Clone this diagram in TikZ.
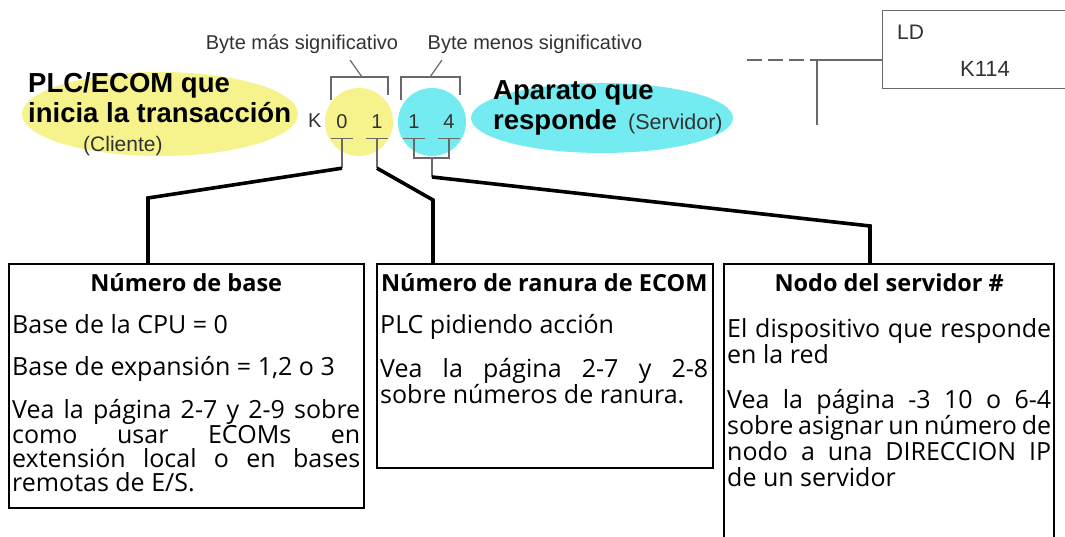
\documentclass[tikz,border=0pt]{standalone}
\usepackage{fontspec}
\setmainfont{Liberation Sans}
\newfontfamily\boxfont{Open Sans}
\definecolor{plcyellow}{RGB}{246,242,140}
\definecolor{srvcyan}{RGB}{115,235,240}
\definecolor{linegray}{RGB}{105,105,105}
\definecolor{textgray}{RGB}{50,50,50}
\tikzset{
  tick/.style={draw=linegray,line width=1.2pt},
  conn/.style={line width=3.6pt,line join=miter},
  infobox/.style={draw,line width=1.6pt,anchor=north west},
  boxtxt/.style={anchor=base west,text width=#1,align=justify,
    font=\boxfont\fontsize{25}{24}\selectfont},
  digit/.style={minimum width=22pt,minimum height=32pt,text=textgray,
    font=\fontsize{20}{20}\selectfont},
  bigtxt/.style={anchor=base west,font=\bfseries\fontsize{27.5}{27}\selectfont},
  smalltxt/.style={anchor=base west,text=textgray,font=\fontsize{20}{20}\selectfont}
}
\newcommand{\boxtitle}[1]{{\centering\bfseries\fontsize{23.5}{24}\selectfont #1\par}}
\begin{document}
\begin{tikzpicture}[x=1pt,y=-1pt,every node/.style={inner sep=0pt}]
      \useasboundingbox (0,0) rectangle (1065,537);
      \clip (0,0) rectangle (1065,537);
      \fill[plcyellow] (160,114) ellipse [x radius=138pt,y radius=42pt];
      \fill[srvcyan] (602,118) ellipse [x radius=131pt,y radius=35pt];
      \fill[plcyellow] (359,122) circle [radius=34pt];
      \fill[srvcyan] (432,122) circle [radius=34pt];

      \node[bigtxt] (cli1) at (28,93) {PLC/ECOM que};
      \node[bigtxt] (cli2) at (28,123) {inicia la transacción};
      \node[smalltxt,font=\fontsize{21}{21}\selectfont] (cli3) at (83,152) {(Cliente)};
      \node[bigtxt] (srv1) at (493,100) {Aparato que};
      \node[bigtxt] (srv2) at (493,130) {responde};
      \node[smalltxt,font=\fontsize{21.5}{21}\selectfont] (srv3) at (628,130) {(Servidor)};

      \node[smalltxt] (kk) at (308,128) {K};
      \node[digit] (d0) at (342,122) {0};
      \node[digit] (d1) at (377,122) {1};
      \node[digit] (d2) at (414,122) {1};
      \node[digit] (d3) at (449,122) {4};
      \foreach \d in {d0,d1,d2,d3}
        \draw[tick] (\d.south west) -- (\d.south east);

      \node[smalltxt,anchor=base] (msb) at (302,50) {Byte más significativo};
      \node[smalltxt,anchor=base] (lsb) at (535,50) {Byte menos significativo};
      \draw[tick] (331,100) |- (388,77) -- (388,95);
      \draw[tick] (362,77) -- (350,60);
      \draw[tick] (401,100) |- (460,77) -- (460,95);
      \draw[tick] (430,77) -- (442,60);

      \node[draw=linegray,line width=1.2pt,anchor=north west,
        minimum width=200pt,minimum height=78pt] (ld) at (882,10) {};
      \node[smalltxt,font=\fontsize{21}{21}\selectfont] (ldop) at (897,40) {LD};
      \node[smalltxt,font=\fontsize{22}{22}\selectfont] (ldk) at (960,77) {K114};
      \coordinate (rung) at (817,60);
      \draw[tick,dash pattern=on 15pt off 6pt] (747,60) -- (rung);
      \draw[tick] (rung) -- (rung -| ld.west);
      \draw[tick] (rung) -- ++(0,65);

      \node[infobox,minimum width=355pt,minimum height=244pt] (base) at (8,263) {};
      \node[infobox,minimum width=336pt,minimum height=204pt] (ranura) at (376,263) {};
      \node[infobox,line width=2.2pt,minimum width=330pt,minimum height=290pt] (nodo) at (723,263) {};

      \node[boxtxt=348pt] (basetxt) at (12,291) {%
        \boxtitle{Número de base}\vspace{18pt}
        Base de la CPU = 0\par\vspace{18pt}
        Base de expansión = 1,2 o 3\par\vspace{17pt}
        Vea la página 2-7 y 2-9 sobre\linebreak como usar ECOMs en\linebreak
        extensión local o en bases\linebreak remotas de E/S.\par};
      \node[boxtxt=328pt] (ranuratxt) at (380,291) {%
        \boxtitle{Número de ranura de ECOM}\vspace{18pt}
        PLC pidiendo acción\par\vspace{18pt}
        Vea la página 2-7 y 2-8\linebreak sobre números de ranura.\par};
      \node[boxtxt=324pt,font=\boxfont\fontsize{25}{26}\selectfont] (nodotxt) at (727,291) {%
        \boxtitle{Nodo del servidor \#}\vspace{20pt}
        El dispositivo que responde\linebreak en la red\par\vspace{19pt}
        Vea la página -3 10 o 6-4\linebreak sobre asignar un número de\linebreak
        nodo a una DIRECCION IP\linebreak de un servidor\par};

      \draw[tick] (d0.south) -- ++(0,30) coordinate (j0);
      \draw[tick] (d1.south) -- ++(0,30) coordinate (j1);
      \coordinate (m23) at (432,158);
      \draw[tick] (d2.south) |- (m23) -| (d3.south);
      \draw[tick] (m23) -- ++(0,19) coordinate (j2);
      \coordinate (k0) at (148,198);
      \coordinate (k1) at (433,200);
      \coordinate (k2) at (870,226);
      \draw[conn] (j0) -- (k0) -- (k0 |- base.north);
      \draw[conn] (j1) -- (k1) -- (k1 |- ranura.north);
      \draw[conn] (j2) -- (k2) -- (k2 |- nodo.north);
    \end{tikzpicture}
\end{document}
